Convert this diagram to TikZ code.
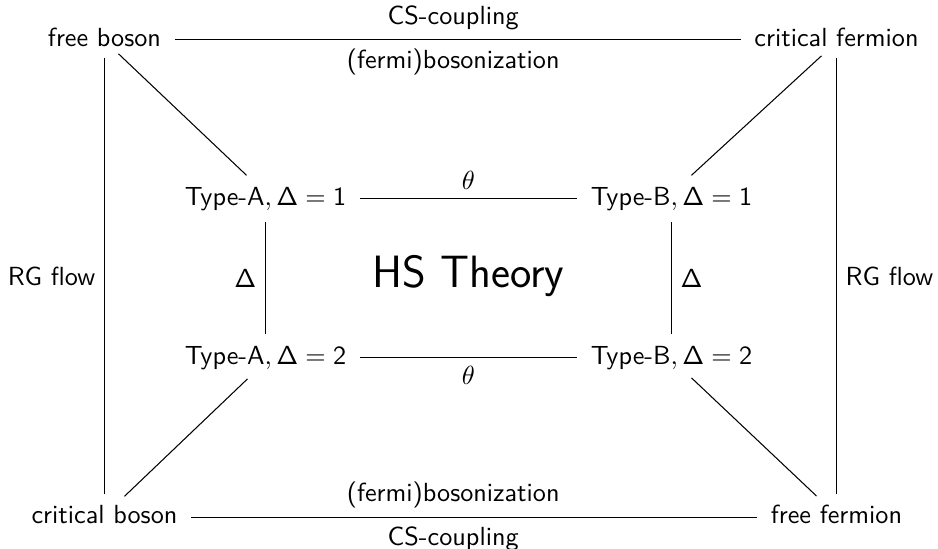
\documentclass[tikz,border=0pt]{standalone}
\usetikzlibrary{calc}
\renewcommand{\familydefault}{\sfdefault}
\newcommand{\sD}{\mathsf{\Delta}}
\begin{document}
\begin{tikzpicture}[x=0.3817pt,y=-0.3817pt,
  obj/.style={anchor=base,inner xsep=5pt,inner ysep=4.2pt,font=\sffamily},
  conn/.style={line width=0.4pt},
  lbl/.style={font=\sffamily,inner sep=3.33pt}]
\useasboundingbox (0,0) rectangle (938,549);
% objects
\node[obj] (fb) at (104.5,46) {free boson};
\node[obj] (cf) at (836.5,46) {critical fermion};
\node[obj] (A1) at (265.5,205) {Type-A$,\sD=\mathsf{1}$};
\node[obj] (B1) at (671.5,205) {Type-B$,\sD=\mathsf{1}$};
\node[obj] (A2) at (265.5,364) {Type-A$,\sD=\mathsf{2}$};
\node[obj] (B2) at (671.5,364) {Type-B$,\sD=\mathsf{2}$};
\node[obj] (cb) at (104.5,524) {critical boson};
\node[obj] (ff) at (836.5,524) {free fermion};
\node[font=\sffamily\LARGE] (hs) at (468.5,276) {HS Theory};
% horizontal connectors
\draw[conn] ([yshift=2.5pt]fb.base east) -- node[lbl,pos=0.492,above]{CS-coupling} node[lbl,pos=0.492,below]{(fermi)bosonization} ([yshift=2.5pt]cf.base west);
\draw[conn] ([yshift=2.5pt]cb.base east) -- node[lbl,pos=0.463,above]{(fermi)bosonization} node[lbl,pos=0.463,below]{CS-coupling} ([yshift=2.5pt]ff.base west);
\draw[conn] ([yshift=2.5pt]A1.base east) -- node[lbl,midway,above]{$\theta$} ([yshift=2.5pt]B1.base west);
\draw[conn] ([yshift=2.5pt]A2.base east) -- node[lbl,midway,below]{$\theta$} ([yshift=2.5pt]B2.base west);
% vertical connectors
\draw[conn] (fb.south) -- node[lbl,midway,left]{RG flow} (fb.south |- cb.north);
\draw[conn] (cf.south) -- node[lbl,midway,right]{RG flow} (cf.south |- ff.north);
\draw[conn] (A1.south) -- node[lbl,midway,left]{$\sD$} (A2.north);
\draw[conn] (B1.south) -- node[lbl,midway,right]{$\sD$} (B2.north);
% diagonals
\draw[conn] ($(fb.south)+(14,-4)$) -- ($(A1.north)+(-19,0)$);
\draw[conn] ($(cf.south)+(-15,-2)$) -- ($(B1.north)+(20,0)$);
\draw[conn] ($(A2.south)+(-18,-2)$) -- ($(cb.north)+(20,2)$);
\draw[conn] ($(B2.south)+(20,-3)$) -- ($(ff.north)+(-20,2)$);
\end{tikzpicture}
\end{document}
